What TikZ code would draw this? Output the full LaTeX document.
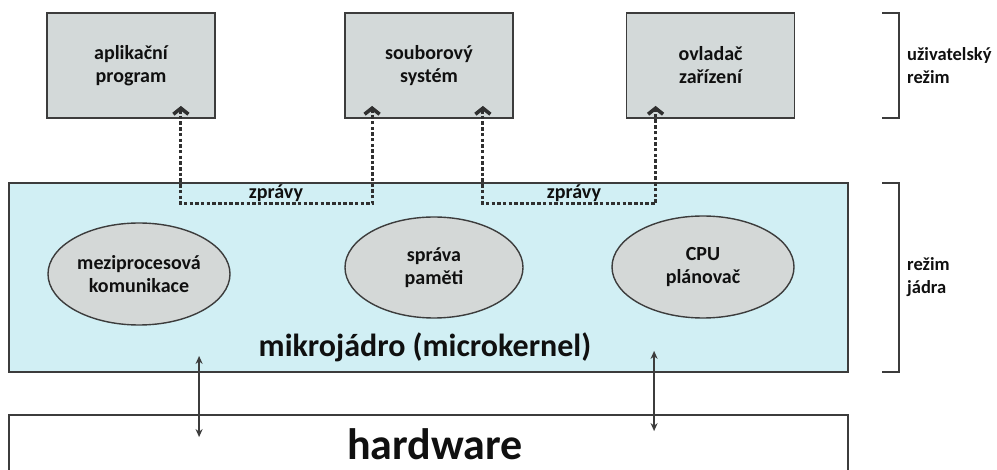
\documentclass[tikz,border=0pt]{standalone}
\usepackage{fontspec}
\setmainfont{Carlito}
\usetikzlibrary{arrows.meta,calc,shapes.geometric}

\definecolor{boxgray}{HTML}{D3D9D9}
\definecolor{ovalgray}{HTML}{D4D8D7}
\definecolor{kernelcyan}{HTML}{D1EFF4}
\definecolor{edgegray}{HTML}{3C3C3C}
\definecolor{msgdark}{HTML}{303030}
\definecolor{inktext}{HTML}{101010}

\tikzset{
  lbl/.style={font=\fontsize{20}{23}\selectfont\bfseries, align=center, text=inktext},
  procbox/.style={lbl, draw=edgegray, line width=1.8pt, fill=boxgray,
    minimum width=168pt, minimum height=105pt, inner sep=0pt},
  service/.style={lbl, ellipse, draw=edgegray, line width=1.4pt, fill=ovalgray,
    inner sep=0pt},
  layer/.style={draw=edgegray, line width=1.8pt, minimum width=839pt, inner sep=0pt},
  msg/.style={draw=msgdark, line width=3pt, dash pattern=on 3.5pt off 2.2pt,
    {Straight Barb[length=6pt,width=15pt,line width=3.6pt]}-{Straight Barb[length=6pt,width=15pt,line width=3.6pt]}},
  hwlink/.style={draw=edgegray, line width=1.5pt,
    {Stealth[length=8pt,width=7pt]}-{Stealth[length=8pt,width=7pt]}},
  modebracket/.style={draw=edgegray, line width=1.8pt},
  modelbl/.style={font=\fontsize{18.5}{23}\selectfont\bfseries, align=left, text=inktext,
    anchor=west, inner sep=0pt}
}

\begin{document}
\begin{tikzpicture}[x=1pt,y=-1pt]
  \clip (0,0) rectangle (997,470);
  \fill[white] (0,0) rectangle (997,470);

  % user-space servers
  \node[procbox] (app) at (131,65.5) {aplikační\\program};
  \node[procbox] (fs)  at (429,65.5) {souborový\\systém};
  \node[procbox] (drv) at (710.5,65.5) {ovladač\\zařízení};

  % kernel and hardware layers
  \node[layer, fill=kernelcyan, minimum height=189pt] (kernel) at (428.5,277.5) {};
  \node[layer, fill=white, minimum height=110pt] (hw) at (428.5,470) {};

  % kernel services
  \node[service, minimum width=182pt, minimum height=102pt] (ipc) at (139,274) {meziprocesová\\komunikace};
  \node[service, minimum width=178pt, minimum height=101pt] (mem) at (434,267.5) {správa\\paměti};
  \node[service, minimum width=182pt, minimum height=102pt] (cpu) at (703,267) {CPU\\plánovač};

  % layer captions
  \node[font=\fontsize{32}{36}\selectfont\bfseries, text=inktext, anchor=base, inner sep=0pt]
    (mk) at (425,357) {mikrojádro (microkernel)};
  \node[font=\fontsize{44}{48}\selectfont\bfseries, text=inktext, anchor=base, inner sep=0pt]
    (hwl) at (435,460) {hardware};

  % messages passed through the microkernel
  \coordinate (m1a) at ($(app.south east)+(-35,-13)$);
  \coordinate (m1b) at ($(fs.south west)+(28,-13)$);
  \coordinate (m2a) at ($(fs.south east)+(-31,-13)$);
  \coordinate (m2b) at ($(drv.south west)+(30,-13)$);
  \draw[msg] (m1a) -- (m1a |- 0,204) -- (m1b |- 0,204) -- (m1b);
  \draw[msg] (m2a) -- (m2a |- 0,204) -- (m2b |- 0,204) -- (m2b);
  \node[lbl, anchor=base, inner sep=0pt] (z1) at (276,199) {zprávy};
  \node[lbl, anchor=base, inner sep=0pt] (z2) at (574,199) {zprávy};

  % kernel <-> hardware
  \draw[hwlink] ($(kernel.south west)+(191,-17)$) -- ($(hw.north west)+(191,23)$);
  \draw[hwlink] ($(kernel.south west)+(646,-22)$) -- ($(hw.north west)+(646,17)$);

  % privilege-mode brackets
  \draw[modebracket] (882,13) -- (899,13) -- (899,118) -- (882,118);
  \draw[modebracket] (882,183) -- (899,183) -- (899,372) -- (882,372);
  \node[modelbl] (um) at (907,66) {uživatelský\\režim};
  \node[modelbl] (km) at (907,277) {režim\\jádra};
\end{tikzpicture}
\end{document}
